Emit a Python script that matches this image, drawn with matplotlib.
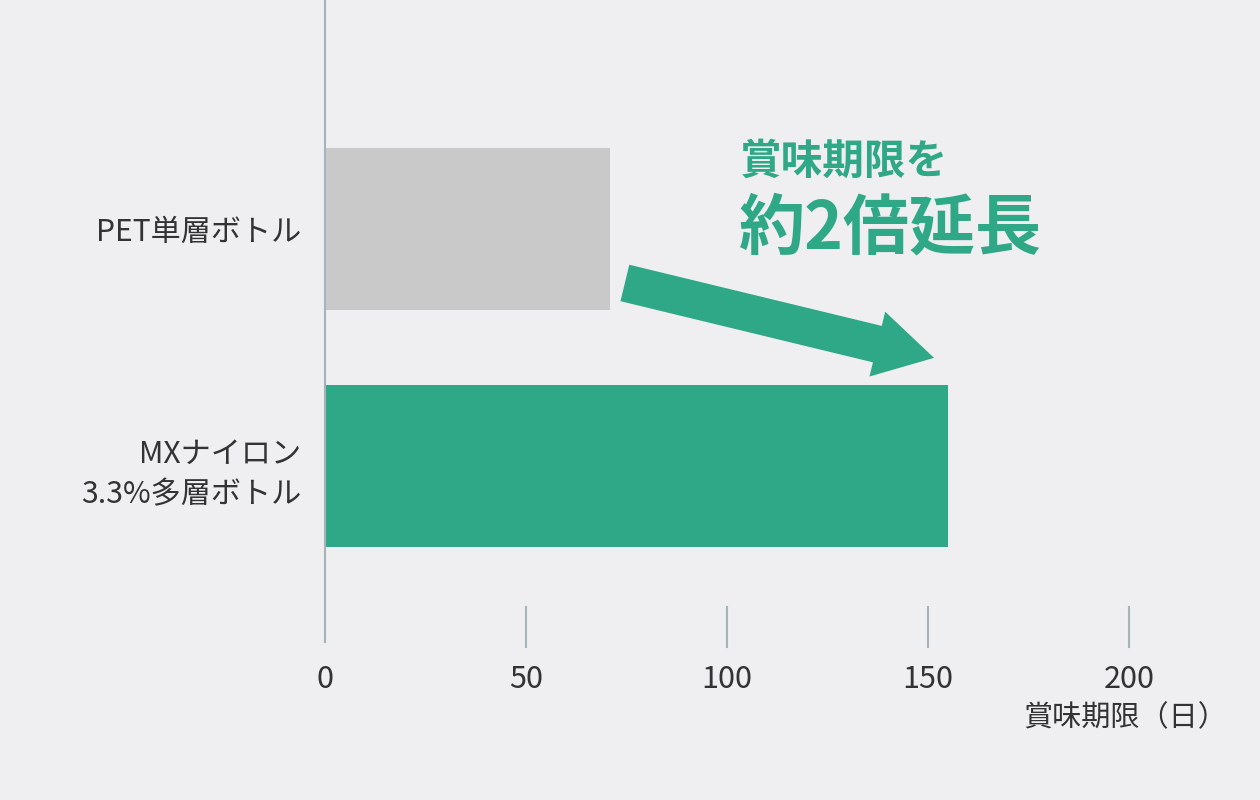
import matplotlib
matplotlib.use('Agg')
import matplotlib.pyplot as plt
from matplotlib.transforms import blended_transform_factory

plt.rcParams['font.family'] = ['Noto Sans CJK JP', 'DejaVu Sans']

# data
categories = ['MXナイロン\n3.3%多層ボトル', 'PET単層ボトル']
shelf_life = [155, 71]
bar_colors = ['#2ea886', '#c9c9c9']
xticks = [0, 50, 100, 150, 200]
xlabel = '賞味期限（日）'
note_small = '賞味期限を'
note_big = '約2倍延長'

bg = '#efeff1'
green = '#2ea886'
text_c = '#333333'
axis_c = '#a7b3bb'

fig = plt.figure(figsize=(12.6, 8), dpi=100, facecolor=bg)
ax = fig.add_axes([325 / 1260, 1 - 642 / 800, (1129 - 325) / 1260, 642 / 800])
ax.set_facecolor(bg)

ypos = list(range(len(categories)))
ax.barh(ypos, shelf_life, height=0.684, color=bar_colors)

ax.set_xlim(0, 200)
ax.set_ylim(-0.743, 1.966)

for s in ['top', 'right', 'bottom']:
    ax.spines[s].set_visible(False)
ax.spines['left'].set_color(axis_c)
ax.spines['left'].set_linewidth(1.5)

# y labels
ax.set_yticks(ypos)
ax.set_yticklabels(categories, fontsize=21.7, color=text_c, linespacing=1.42)
ax.tick_params(axis='y', length=0, pad=17)

# x ticks drawn as short lines above the baseline
ax.set_xticks([])
trans = blended_transform_factory(ax.transData, ax.transAxes)
for t in xticks[1:]:
    ax.plot([t, t], [35 / 642, -5 / 642], color=axis_c, lw=1.5,
            transform=trans, clip_on=False)
for t in xticks:
    ax.text(t, -38 / 642, str(t), transform=trans, ha='center', va='center',
            fontsize=22, color=text_c)

# full-width closing paren has trailing blank, so anchor a bit further right
fig.text(1227 / 1260, 1 - 718 / 800, xlabel, ha='right', va='center',
         fontsize=21, color=text_c)

# annotation
fig.text(740 / 1260, 1 - 162 / 800, note_small, ha='left', va='center',
         fontsize=30, fontweight='bold', color=green)
fig.text(739 / 1260, 1 - 229 / 800, note_big, ha='left', va='center',
         fontsize=47.5, fontweight='bold', color=green)

ax.annotate('', xy=(151.5, 0.456), xytext=(74.6, 0.772),
            arrowprops=dict(arrowstyle='simple,head_length=42,head_width=48,tail_width=27',
                            mutation_scale=1, color=green, shrinkA=0, shrinkB=0, lw=0))

fig.savefig('out.png', dpi=100, facecolor=bg)
